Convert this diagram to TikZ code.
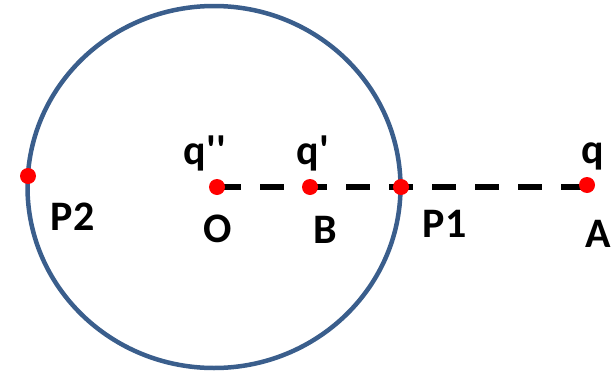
\documentclass[tikz,border=0pt]{standalone}
\usepackage{fontspec}
\setmainfont{Carlito}[Ligatures=TeXOff]
\usepackage{tikz}
\usetikzlibrary{positioning, backgrounds}
\definecolor{ringblue}{RGB}{58,94,140}
\tikzset{
  ring/.style={draw=ringblue, line width=4.5pt},
  charge_dot/.style={circle, fill=red, inner sep=0pt, minimum size=16pt},
  dash_line/.style={draw=black, line width=6pt, dash pattern=on 24pt off 19pt},
  label_text/.style={font=\bfseries\fontsize{42}{50}\selectfont, inner sep=0pt, anchor=base}
}
\begin{document}
\begin{tikzpicture}[x=1pt, y=-1pt]
  \useasboundingbox (0,0) rectangle (613,375);

  % Circle
  \draw[ring] (214,187) ellipse [x radius=186.5pt, y radius=181pt];

  % Points
  \node[charge_dot] (O) at (217,187) {};
  \node[charge_dot] (B) at (310,187) {};
  \node[charge_dot] (P1) at (401,187) {};
  \node[charge_dot] (A) at (587,185) {};
  \node[charge_dot] (P2) at (28,176) {};

  \begin{scope}[on background layer]
    \draw[dash_line] (O.center) -- (A.center |- O.center);
  \end{scope}

  % Labels
  \node[label_text] (q2_label) at (205,164) {q''};
  \node[label_text] (q1_label) at (313,164) {q'};
  \node[label_text] (q_label) at (593,163) {q};
  \node[label_text] (O_label) at (217.5,242) {O};
  \node[label_text] (B_label) at (325,243) {B};
  \node[label_text] (P1_label) at (444.5,237) {P1};
  \node[label_text] (P2_label) at (72.5,230) {P2};
  \node[label_text, anchor=base west] (A_label) at (585,247) {A};
\end{tikzpicture}
\end{document}
